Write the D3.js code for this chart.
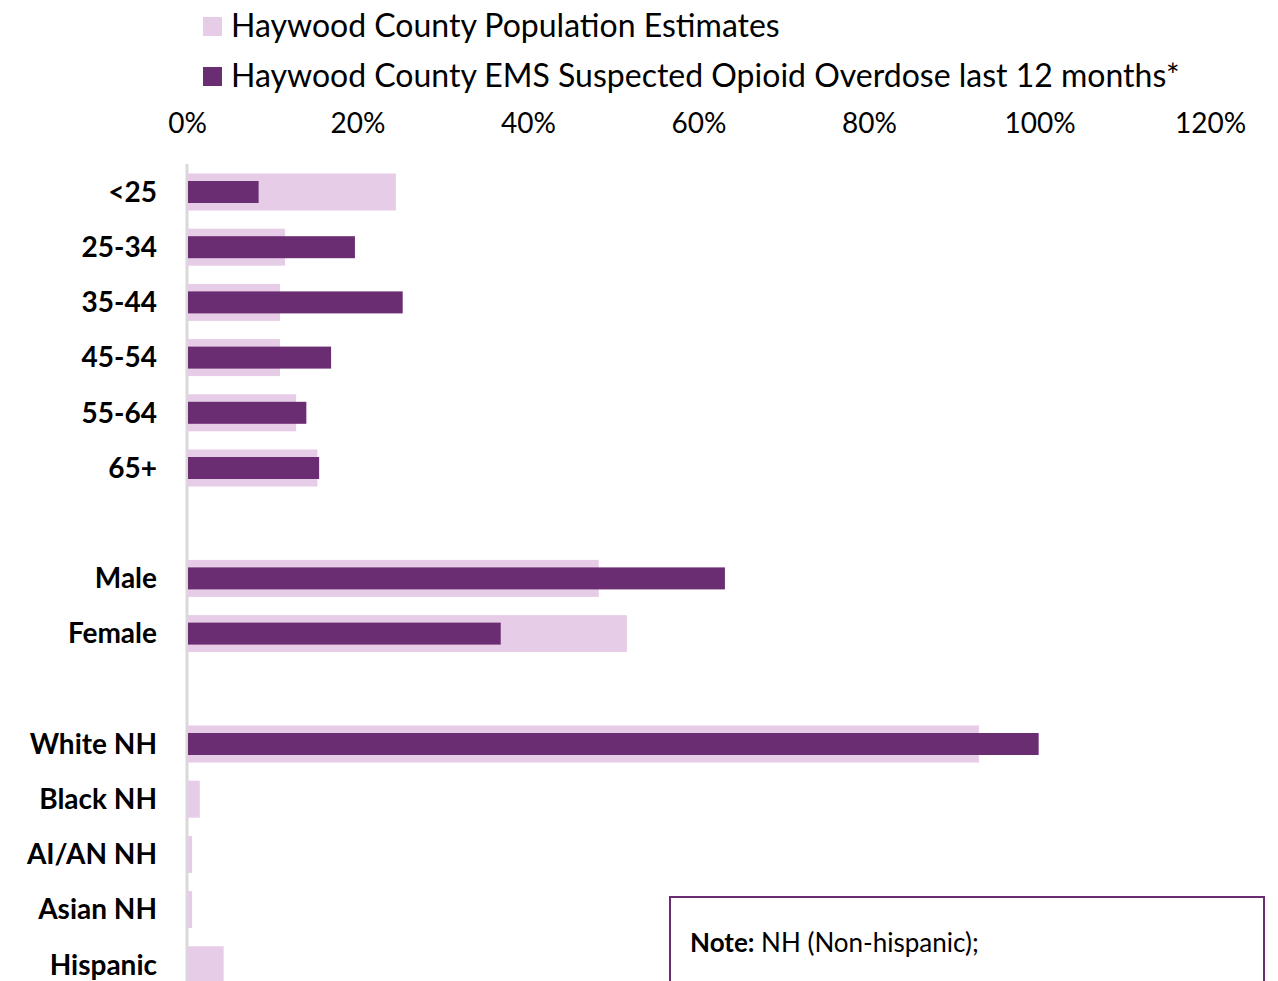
<!DOCTYPE html>
<html>
<head>
<meta charset="utf-8">
<script src="https://cdn.jsdelivr.net/npm/d3@7/dist/d3.min.js"></script>
<style>
  body { margin: 0; background: #fff; }
  svg text { font-family: Lato, "Open Sans", sans-serif; fill: #000; }
</style>
</head>
<body>
<div id="chart"></div>
<script>
var svgWidth = 1278;
var svgHeight = 981;

// rows top to bottom, blank entries are the gaps between groups
var categories = ["<25", "25-34", "35-44", "45-54", "55-64", "65+", "gap1",
                  "Male", "Female", "gap2",
                  "White NH", "Black NH", "AI/AN NH", "Asian NH", "Hispanic"];
var populationPct = [24.5, 11.5, 10.9, 10.9, 12.8, 15.3, null,
                     48.3, 51.6, null,
                     92.9, 1.5, 0.6, 0.6, 4.3];
var emsPct = [8.4, 19.7, 25.3, 16.9, 14.0, 15.5, null,
              63.1, 36.8, null,
              99.9, 0, 0, 0, 0];
var tickValues = [0, 20, 40, 60, 80, 100, 120];
var seriesNames = ["Haywood County Population Estimates",
                   "Haywood County EMS Suspected Opioid Overdose last 12 months*"];

var lightColor = "#E7CCE8";
var darkColor = "#6B2D72";

var svg = d3.select("#chart")
  .append("svg")
  .attr("width", svgWidth)
  .attr("height", svgHeight);

var xScale = d3.scaleLinear()
  .domain([0, 120])
  .range([187, 1210]);

var yScale = d3.scaleBand()
  .domain(categories)
  .range([164.4, 164.4 + 55.2 * categories.length])
  .paddingInner(0.33)
  .paddingOuter(0.165);

var rows = categories.map(function(c, i) {
  return {cat: c, pop: populationPct[i], ems: emsPct[i]};
});

// legend
var legend = svg.append("g");
[lightColor, darkColor].forEach(function(col, i) {
  legend.append("rect")
    .attr("x", 203)
    .attr("y", 17 + i * 50)
    .attr("width", 19)
    .attr("height", 19)
    .attr("fill", col);
  legend.append("text")
    .attr("x", 231)
    .attr("y", 37 + i * 50)
    .style("font-size", "32px")
    .text(seriesNames[i]);
});

// top axis
var topAxis = d3.axisTop(xScale)
  .tickValues(tickValues)
  .tickSize(0)
  .tickPadding(0)
  .tickFormat(function(d) { return d + "%"; });

var xAxis = svg.append("g")
  .attr("transform", "translate(0, 133)")
  .call(topAxis);
xAxis.select(".domain").remove();
xAxis.selectAll("text")
  .style("font-size", "28px")
  .attr("dy", 0);

// vertical axis line
svg.append("line")
  .attr("x1", xScale(0))
  .attr("x2", xScale(0))
  .attr("y1", 164)
  .attr("y2", svgHeight)
  .attr("stroke", "#D9D9D9")
  .attr("stroke-width", 3);

// population bars (wide, light)
svg.selectAll(".pop")
  .data(rows.filter(function(d) { return d.pop !== null; }))
  .enter()
  .append("rect")
  .attr("class", "pop")
  .attr("x", xScale(0) + 1)
  .attr("y", function(d) { return yScale(d.cat); })
  .attr("width", function(d) { return xScale(d.pop) - xScale(0) - 1; })
  .attr("height", yScale.bandwidth())
  .attr("fill", lightColor);

// EMS bars (narrow, dark)
var inner = 22;
svg.selectAll(".ems")
  .data(rows.filter(function(d) { return d.ems; }))
  .enter()
  .append("rect")
  .attr("class", "ems")
  .attr("x", xScale(0) + 1)
  .attr("y", function(d) { return yScale(d.cat) + (yScale.bandwidth() - inner) / 2; })
  .attr("width", function(d) { return xScale(d.ems) - xScale(0) - 1; })
  .attr("height", inner)
  .attr("fill", darkColor);

// category labels
svg.selectAll(".cat")
  .data(rows.filter(function(d) { return d.pop !== null; }))
  .enter()
  .append("text")
  .attr("class", "cat")
  .attr("x", 157)
  .attr("y", function(d) { return yScale(d.cat) + yScale.bandwidth() / 2; })
  .attr("dy", "0.35em")
  .attr("text-anchor", "end")
  .style("font-size", "28px")
  .style("font-weight", "bold")
  .text(function(d) { return d.cat; });

// note box
svg.append("rect")
  .attr("x", 670)
  .attr("y", 897)
  .attr("width", 594)
  .attr("height", 120)
  .attr("fill", "#fff")
  .attr("stroke", "#6B2D72")
  .attr("stroke-width", 2);

var note = svg.append("text")
  .attr("x", 690)
  .attr("y", 952)
  .style("font-size", "26px");
note.append("tspan").style("font-weight", "bold").text("Note:");
note.append("tspan").text(" NH (Non-hispanic);");
</script>
</body>
</html>
